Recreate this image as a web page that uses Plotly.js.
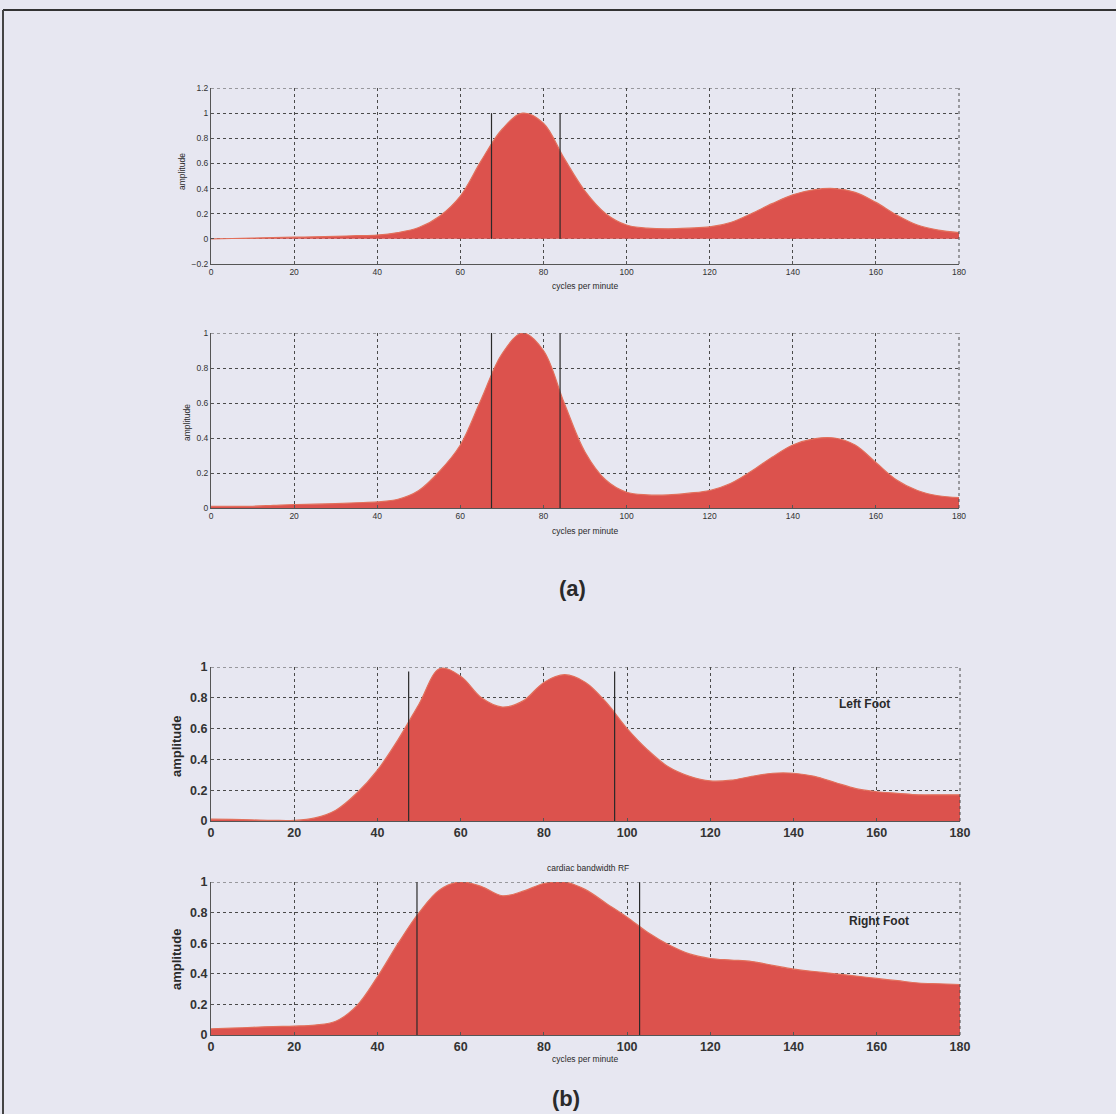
<!DOCTYPE html>
<html>
<head>
<meta charset="utf-8">
<script src="https://cdn.plot.ly/plotly-3.0.1.min.js"></script>
<style>
html,body{margin:0;padding:0;background:#e7e7f1;}
#chart{width:1116px;height:1114px;}
</style>
</head>
<body>
<div id="chart"></div>
<script>
// ---------- data ----------
var cpm = [0,5,10,15,20,25,30,35,40,45,50,55,60,65,70,75,80,85,90,95,100,105,110,115,120,125,130,135,140,145,150,155,160,165,170,175,180];

var ampA1 = [0.0,0.003,0.006,0.01,0.013,0.016,0.02,0.025,0.03,0.05,0.09,0.18,0.34,0.62,0.87,1.0,0.92,0.64,0.38,0.2,0.11,0.085,0.08,0.085,0.095,0.13,0.2,0.28,0.35,0.39,0.40,0.37,0.29,0.19,0.11,0.07,0.05];
var ampA2 = [0.01,0.01,0.01,0.015,0.02,0.022,0.025,0.03,0.035,0.05,0.1,0.21,0.36,0.62,0.88,1.0,0.9,0.6,0.32,0.16,0.09,0.075,0.075,0.085,0.1,0.14,0.21,0.29,0.36,0.395,0.4,0.36,0.26,0.16,0.1,0.07,0.06];
var ampLeft = [0.012,0.01,0.007,0.004,0.004,0.02,0.07,0.18,0.33,0.53,0.76,0.99,0.94,0.8,0.74,0.78,0.9,0.95,0.9,0.77,0.6,0.46,0.35,0.29,0.26,0.265,0.29,0.31,0.31,0.29,0.25,0.21,0.19,0.18,0.17,0.17,0.17];
var ampRight = [0.04,0.045,0.05,0.055,0.058,0.065,0.09,0.19,0.38,0.6,0.8,0.95,1.0,0.97,0.91,0.94,0.99,1.0,0.95,0.86,0.77,0.67,0.59,0.53,0.5,0.49,0.48,0.455,0.43,0.415,0.4,0.385,0.37,0.355,0.34,0.335,0.33];

// bandwidth limits (cycles per minute) for each panel
var bandA1 = [67.5, 84];
var bandA2 = [67.5, 84];
var bandLeft = [47.5, 97];
var bandRight = [49.5, 103];
var bandTopA1 = 1.0, bandTopA2 = 1.0, bandTopLeft = 0.97, bandTopRight = 1.0;

var xTicks = [0,20,40,60,80,100,120,140,160,180];
var yTicksA1 = [-0.2,0,0.2,0.4,0.6,0.8,1,1.2];
var yTicks01 = [0,0.2,0.4,0.6,0.8,1];

var xLabel = "cycles per minute";
var yLabel = "amplitude";
var titleRF = "cardiac bandwidth RF";
var labelLeft = "Left Foot";
var labelRight = "Right Foot";
var panelA = "(a)";
var panelB = "(b)";

// ---------- layout helpers ----------
var W = 1116, H = 1114;
function px(x){return x/W;}
function py(y){return 1 - y/H;}

var fillCol = "rgb(220,82,77)";
var lineCol = "rgb(226,112,92)";
var gridCol = "#4a4a4a";
var FONT = "Liberation Sans, Arial, sans-serif";

var traces = [];
function addPanel(idx, amp, band, top){
  var xa = idx===1 ? "x" : "x"+idx;
  var ya = idx===1 ? "y" : "y"+idx;
  traces.push({x:cpm, y:amp, xaxis:xa, yaxis:ya, type:"scatter", mode:"lines",
    fill:"tozeroy", fillcolor:fillCol, line:{color:lineCol, width:1.2, shape:"spline", smoothing:1},
    hoverinfo:"skip", showlegend:false});
  for (var i=0;i<band.length;i++){
    traces.push({x:[band[i],band[i]], y:[0,top], xaxis:xa, yaxis:ya, type:"scatter", mode:"lines",
      line:{color:"#2a2a2a", width:1.2}, hoverinfo:"skip", showlegend:false});
  }
}
addPanel(1, ampA1, bandA1, bandTopA1);
addPanel(2, ampA2, bandA2, bandTopA2);
addPanel(3, ampLeft, bandLeft, bandTopLeft);
addPanel(4, ampRight, bandRight, bandTopRight);

function xAxis(dom, anchor, small){
  return {domain:dom, anchor:anchor, range:[0,180], tickvals:xTicks, showgrid:true,
    gridcolor:gridCol, griddash:"3px,3px", gridwidth:1, zeroline:false,
    showline:true, linecolor:"#555", linewidth:1, ticks:"inside", ticklen:3, tickcolor:"#555",
    tickfont: small ? {size:8.5, color:"#333", family:FONT} : {size:12.5, color:"#333", family:FONT, weight:"bold"},
    fixedrange:true};
}
function yAxis(dom, anchor, range, ticks, small){
  return {domain:dom, anchor:anchor, range:range, tickvals:ticks, showgrid:true,
    gridcolor:gridCol, griddash:"3px,3px", gridwidth:1, zeroline:false,
    showline:true, linecolor:"#555", linewidth:1, ticks:"inside", ticklen:3, tickcolor:"#555",
    tickfont: small ? {size:8.5, color:"#333", family:FONT} : {size:12.5, color:"#333", family:FONT, weight:"bold"},
    fixedrange:true};
}

var xdomAB = [px(211), px(959)];
var xdomCD = [px(211), px(960)];

var layout = {
  width:W, height:H, margin:{l:0,r:0,t:0,b:0},
  paper_bgcolor:"#e7e7f1", plot_bgcolor:"rgba(0,0,0,0)",
  font:{family:FONT, color:"#333"},
  showlegend:false,
  xaxis: xAxis(xdomAB, "y", true),
  yaxis: yAxis([py(264), py(88)], "x", [-0.2,1.2], yTicksA1, true),
  xaxis2: xAxis(xdomAB, "y2", true),
  yaxis2: yAxis([py(508), py(333)], "x2", [0,1], yTicks01, true),
  xaxis3: xAxis(xdomCD, "y3", false),
  yaxis3: yAxis([py(821), py(667)], "x3", [0,1], yTicks01, false),
  xaxis4: xAxis(xdomCD, "y4", false),
  yaxis4: yAxis([py(1035), py(882)], "x4", [0,1], yTicks01, false),
  shapes:[],
  annotations:[]
};

// dashed box edges (top & right) for each panel
[["x","y",1.2],["x2","y2",1],["x3","y3",1],["x4","y4",1]].forEach(function(a){
  var xr = a[0], yr=a[1];
  layout.shapes.push({type:"line", xref:xr, yref:yr, x0:0, x1:180, y0:a[2], y1:a[2], line:{color:gridCol, width:1, dash:"3px,3px"}});
  layout.shapes.push({type:"line", xref:xr+" domain", yref:yr+" domain", x0:1, x1:1, y0:0, y1:1, line:{color:gridCol, width:1, dash:"3px,3px"}});
});

// page frame (top and left)
layout.shapes.push({type:"line", xref:"paper", yref:"paper", x0:px(3), x1:1, y0:py(10), y1:py(10), line:{color:"#333", width:2}});
layout.shapes.push({type:"line", xref:"paper", yref:"paper", x0:px(3), x1:px(3), y0:py(10), y1:0, line:{color:"#444", width:2}});

function ann(text, x, y, size, bold, angle){
  layout.annotations.push({text: bold ? "<b>"+text+"</b>" : text, xref:"paper", yref:"paper",
    x:px(x), y:py(y), xanchor:"center", yanchor:"middle", showarrow:false, textangle:angle||0,
    font:{size:size, color:"#2a2a2a", family:FONT}});
}
ann(xLabel, 585, 286, 8.5, false);
ann(xLabel, 585, 531, 8.5, false);
ann(yLabel, 182, 172, 8.5, false, -90);
ann(yLabel, 187, 423, 8.5, false, -90);
ann(yLabel, 176, 747, 13, true, -90);
ann(yLabel, 176, 960, 13, true, -90);
ann(titleRF, 588, 868, 8.5, false);
ann(xLabel, 585, 1059, 8.5, false);
ann(labelLeft, 864, 704, 12, true);
ann(labelRight, 879, 921, 12, true);
ann(panelA, 572, 588, 22, true);
ann(panelB, 566, 1098, 22, true);

Plotly.newPlot("chart", traces, layout, {staticPlot:true, displayModeBar:false});
</script>
</body>
</html>
